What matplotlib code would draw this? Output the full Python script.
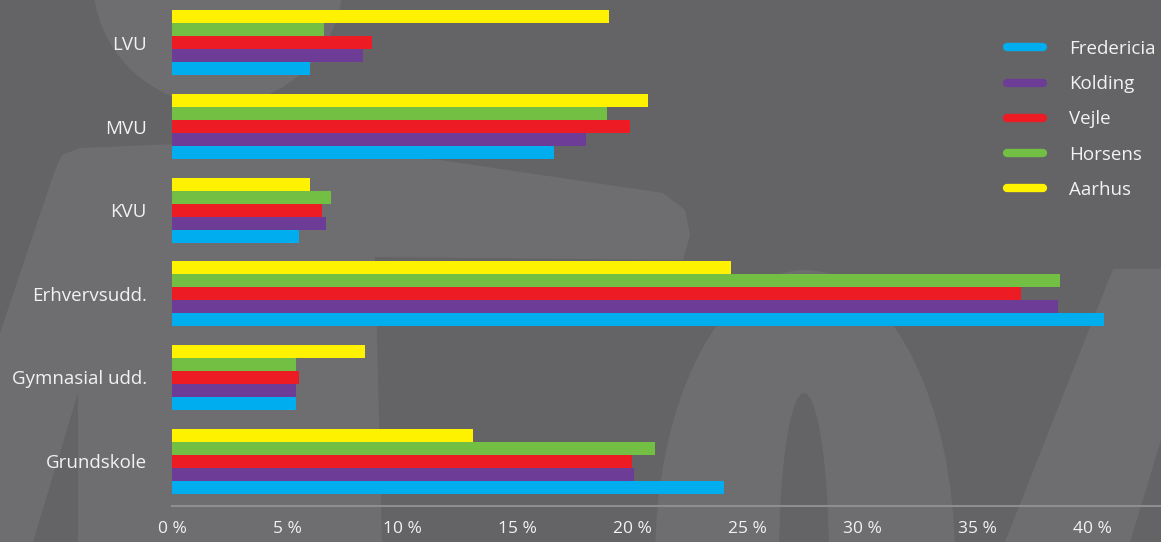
import matplotlib
matplotlib.use("Agg")
import matplotlib.pyplot as plt
import numpy as np
from matplotlib.patches import Ellipse, Circle, Polygon
from matplotlib.lines import Line2D

# data (percent)
categories = ["Grundskole", "Gymnasial udd.", "Erhvervsudd.", "KVU", "MVU", "LVU"]
cities = ["Fredericia", "Kolding", "Vejle", "Horsens", "Aarhus"]
fredericia = [24.0, 5.4, 40.5, 5.5, 16.6, 6.0]
kolding = [20.1, 5.4, 38.5, 6.7, 18.0, 8.3]
vejle = [20.0, 5.5, 36.9, 6.5, 19.9, 8.7]
horsens = [21.0, 5.4, 38.6, 6.9, 18.9, 6.6]
aarhus = [13.1, 8.4, 24.3, 6.0, 20.7, 19.0]
series = [fredericia, kolding, vejle, horsens, aarhus]
colors = ["#00aeef", "#6c3c97", "#ed1c24", "#72bf44", "#fff200"]
xticks = [0, 5, 10, 15, 20, 25, 30, 35, 40]

bg = "#646466"
wm = "#6e6e70"
txt = "#f2f2f2"

plt.rcParams["font.family"] = ["Open Sans", "DejaVu Sans"]

fig = plt.figure(figsize=(11.61, 5.42), dpi=100, facecolor=bg)

# decorative watermark in pixel coordinates
bgax = fig.add_axes([0, 0, 1, 1], zorder=0)
bgax.set_xlim(0, 1161)
bgax.set_ylim(542, 0)
bgax.axis("off")
bgax.add_patch(Circle((218, -20), 125, color=wm, lw=0))
bgax.add_patch(Polygon([(80, 148), (200, 143), (440, 160), (663, 193), (685, 210),
                        (690, 235), (683, 260), (375, 257), (382, 542), (0, 542),
                        (0, 333), (55, 170), (62, 155)], closed=True, color=wm, lw=0))
bgax.add_patch(Polygon([(78, 393), (78, 542), (33, 542)], closed=True, color=bg, lw=0))
bgax.add_patch(Ellipse((805, 560), 300, 580, color=wm, lw=0))
bgax.add_patch(Ellipse((804, 560), 50, 334, color=bg, lw=0))
bgax.add_patch(Polygon([(1113, 269), (1161, 269), (1161, 440), (1130, 542), (1005, 542)],
                       closed=True, color=wm, lw=0))

ax = fig.add_axes([172 / 1161, 1 - 506 / 542, 989 / 1161, 506 / 542], zorder=1)
ax.set_facecolor("none")

y = np.arange(len(categories))
h = 0.1555
for i, (vals, c) in enumerate(zip(series, colors)):
    ax.barh(y + (i - 2) * h, vals, height=h, color=c, label=cities[i], lw=0)

ax.set_xlim(0, 43)
ax.set_ylim(-0.538, 5.514)
ax.set_yticks(y)
ax.set_yticklabels(categories, color=txt, fontsize=13.5)
ax.set_xticks(xticks)
ax.set_xticklabels([f"{t} %" for t in xticks], color=txt, fontsize=12.5)
ax.tick_params(axis="y", length=0, pad=18)
ax.tick_params(axis="x", length=0, pad=11)
for s in ["top", "right", "left"]:
    ax.spines[s].set_visible(False)
ax.spines["bottom"].set_color("#8e8e90")
ax.spines["bottom"].set_linewidth(1.5)

handles = [Line2D([0], [0], color=c, lw=6, solid_capstyle="round") for c in colors]
leg = ax.legend(handles, cities, loc="upper left", bbox_to_anchor=(1007 / 1161, 1 - 40 / 542),
                bbox_transform=fig.transFigure, frameon=False, fontsize=13.5,
                handlelength=1.92, handletextpad=1.39, labelspacing=0.92,
                borderaxespad=0, borderpad=0)
for t in leg.get_texts():
    t.set_color(txt)

fig.savefig("out.png", dpi=100, facecolor=bg)
